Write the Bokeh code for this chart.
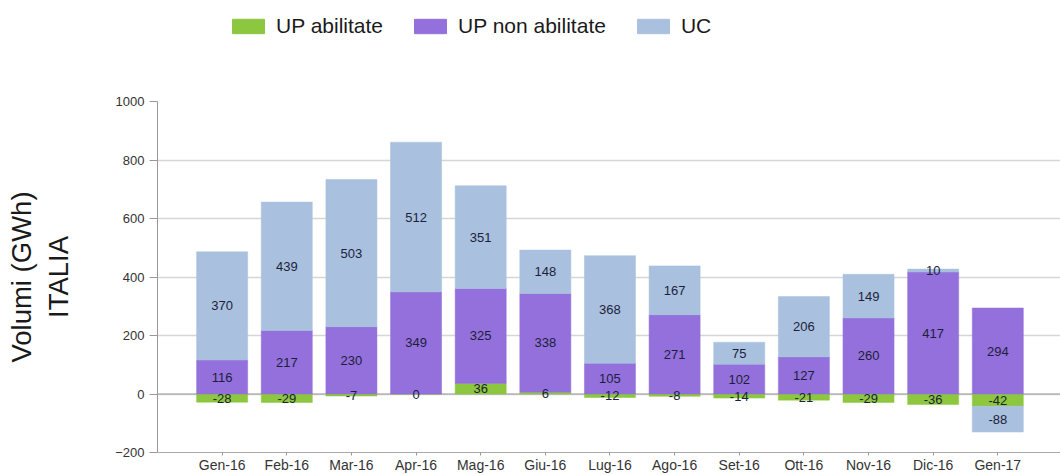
from bokeh.plotting import figure
from bokeh.layouts import column
from bokeh.models import (ColumnDataSource, FixedTicker, Legend, LegendItem, Span, Range1d)
from bokeh.core.properties import value
from bokeh.embed import file_html
from bokeh.resources import INLINE

months = ["Gen-16", "Feb-16", "Mar-16", "Apr-16", "Mag-16", "Giu-16", "Lug-16",
          "Ago-16", "Set-16", "Ott-16", "Nov-16", "Dic-16", "Gen-17"]
up_abilitate = [-28, -29, -7, 0, 36, 6, -12, -8, -14, -21, -29, -36, -42]
up_non_abilitate = [116, 217, 230, 349, 325, 338, 105, 271, 102, 127, 260, 417, 294]
uc = [370, 439, 503, 512, 351, 148, 368, 167, 75, 206, 149, 10, -88]
y_ticks = [-200, 0, 200, 400, 600, 800, 1000]

series = [("UP abilitate", up_abilitate, "#8dc63f"),
          ("UP non abilitate", up_non_abilitate, "#9370db"),
          ("UC", uc, "#a9c0de")]

FONT = "Liberation Sans"
xs = list(range(len(months)))

W = 1060
H_LEG, H_MAIN = 90, 385

p = figure(width=W, height=H_MAIN, x_range=Range1d(-1.0, 12.97), y_range=Range1d(-200, 1000),
           output_backend="svg", toolbar_location=None,
           min_border_left=157, min_border_right=0, min_border_top=11, min_border_bottom=0)
p.outline_line_color = None
p.background_fill_color = "white"
p.xgrid.grid_line_color = None
p.ygrid.grid_line_color = "#d6d6d6"
p.ygrid.grid_line_width = 1.5

p.add_layout(Span(location=0, dimension="width", line_color="#9a9a9a", line_width=1,
                  level="underlay"))

pos = [0] * len(months)
neg = [0] * len(months)
for name, vals, color in series:
    bottoms, tops = [], []
    for i, v in enumerate(vals):
        if v >= 0:
            bottoms.append(pos[i]); tops.append(pos[i] + v); pos[i] += v
        else:
            bottoms.append(neg[i] + v); tops.append(neg[i]); neg[i] += v
    mids = [(b + t) / 2 for b, t in zip(bottoms, tops)]
    src = ColumnDataSource(dict(x=xs, bottom=bottoms, top=tops, mid=mids,
                                label=[str(v) for v in vals]))
    p.vbar(x="x", bottom="bottom", top="top", width=0.79, source=src,
           fill_color=color, line_color=color, line_width=0.5)

# labels drawn after all bars so that none is hidden by a neighbouring segment
pos = [0] * len(months)
neg = [0] * len(months)
for name, vals, color in series:
    mids = []
    for i, v in enumerate(vals):
        if v >= 0:
            mids.append(pos[i] + v / 2); pos[i] += v
        else:
            mids.append(neg[i] + v / 2); neg[i] += v
    src = ColumnDataSource(dict(x=xs, mid=mids, label=[str(v) for v in vals]))
    p.text(x="x", y="mid", text="label", source=src, text_align="center",
           text_baseline="middle", text_font=value(FONT), text_font_size="13px",
           text_color="#1c1f3a")

# axes
p.yaxis.ticker = FixedTicker(ticks=y_ticks)
p.yaxis.axis_label = "Volumi (GWh)\nITALIA"
p.yaxis.axis_label_text_font = FONT
p.yaxis.axis_label_text_font_size = "27.5px"
p.yaxis.axis_label_text_font_style = "normal"
p.yaxis.axis_label_text_color = "#1a1a1a"
p.yaxis.axis_label_standoff = 38
p.yaxis.major_label_text_font = FONT
p.yaxis.major_label_text_font_size = "13px"
p.yaxis.major_label_text_color = "#333333"
p.yaxis.major_tick_out = 8
p.yaxis.major_tick_in = 0
p.yaxis.minor_tick_line_color = None
p.yaxis.axis_line_color = "#999999"
p.yaxis.major_tick_line_color = "#999999"

p.xaxis.ticker = FixedTicker(ticks=xs)
p.xaxis.major_label_overrides = {i: m for i, m in enumerate(months)}
p.xaxis.major_label_text_font = FONT
p.xaxis.major_label_text_font_size = "14px"
p.xaxis.major_label_text_color = "#333333"
p.xaxis.major_tick_out = 3
p.xaxis.major_tick_in = 0
p.xaxis.major_label_standoff = 1
p.xaxis.minor_tick_line_color = None
p.xaxis.axis_line_color = "#aaaaaa"
p.xaxis.major_tick_line_color = "#999999"

# legend strip on top (its frame is aligned with the main frame by the column layout)
lg = figure(width=W, height=H_LEG, x_range=Range1d(0, 1), y_range=Range1d(0, 1),
            output_backend="svg", toolbar_location=None, x_axis_type=None, y_axis_type=None,
            min_border_left=0, min_border_right=0, min_border_top=0, min_border_bottom=0)
lg.outline_line_color = None
lg.xgrid.grid_line_color = None
lg.ygrid.grid_line_color = None
items = []
for name, vals, color in series:
    r = lg.vbar(x=[-5], top=[-5], bottom=[-6], width=0.5, fill_color=color, line_color=color)
    items.append(LegendItem(label=name, renderers=[r]))
legend = Legend(items=items, orientation="horizontal", location=(71, 52),
                glyph_width=40, glyph_height=18, label_text_font=FONT,
                label_text_font_size="21px", label_text_color="#1a1a1a",
                label_standoff=8, spacing=27, padding=0, margin=0,
                border_line_alpha=0, background_fill_alpha=0, label_height=22)
lg.add_layout(legend, "center")

layout = column(lg, p, spacing=0)
open("out.html", "w").write(file_html(layout, INLINE))
